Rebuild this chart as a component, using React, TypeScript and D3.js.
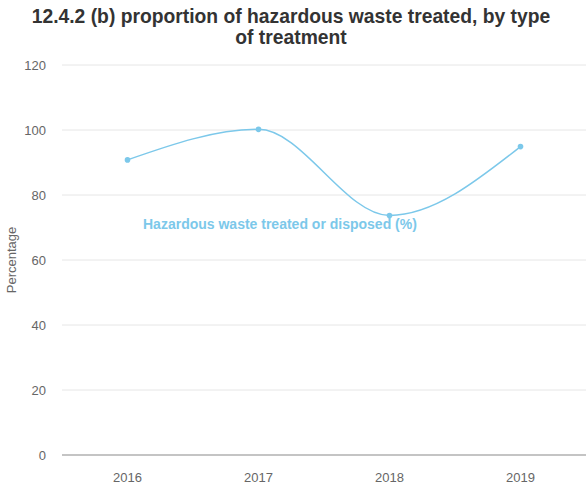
import React from "react";
import * as d3 from "d3";

const years = ["2016", "2017", "2018", "2019"];
const treated = [90.8, 100.2, 73.7, 94.9];
const yTicks = [0, 20, 40, 60, 80, 100, 120];

const W = 587;
const H = 489;
const margin = { top: 65, right: 1, bottom: 34, left: 62 };
const lineColor = "#7cc8ea";
const font = "'Liberation Sans', Arial, sans-serif";

const App: React.FC = () => {
  const x = d3
    .scaleBand<string>()
    .domain(years)
    .range([margin.left, W - margin.right]);
  const y = d3
    .scaleLinear()
    .domain([0, 120])
    .range([H - margin.bottom, margin.top]);

  const pts = years.map((yr, i) => ({ yr, v: treated[i] }));
  const line = d3
    .line<{ yr: string; v: number }>()
    .x((d) => (x(d.yr) as number) + x.bandwidth() / 2)
    .y((d) => y(d.v))
    .curve(d3.curveMonotoneX);

  return (
    <svg
      width={W}
      height={H}
      style={{ position: "absolute", left: 0, top: 0, background: "#fff" }}
      fontFamily={font}
    >
      <text x={291} y={23} textAnchor="middle" fontSize={19.3} fontWeight="bold" fill="#333">
        12.4.2 (b) proportion of hazardous waste treated, by type
      </text>
      <text x={291} y={44} textAnchor="middle" fontSize={19.3} fontWeight="bold" fill="#333">
        of treatment
      </text>

      {yTicks.map((t) => (
        <g key={t}>
          {t !== 0 && (
            <line
              x1={margin.left}
              x2={W - margin.right}
              y1={y(t)}
              y2={y(t)}
              stroke="#e6e6e6"
              strokeWidth={1}
            />
          )}
          <text x={46} y={y(t) + 4.5} textAnchor="end" fontSize={13} fill="#666">
            {t}
          </text>
        </g>
      ))}
      <line
        x1={margin.left}
        x2={W - margin.right}
        y1={y(0)}
        y2={y(0)}
        stroke="#8a8a8a"
        strokeWidth={1.2}
      />

      {years.map((yr) => (
        <text
          key={yr}
          x={(x(yr) as number) + x.bandwidth() / 2}
          y={482}
          textAnchor="middle"
          fontSize={13}
          fill="#666"
        >
          {yr}
        </text>
      ))}

      <text
        transform={`translate(16, ${(y(0) + y(120)) / 2}) rotate(-90)`}
        textAnchor="middle"
        fontSize={13}
        fill="#666"
      >
        Percentage
      </text>

      <path d={line(pts) ?? ""} fill="none" stroke={lineColor} strokeWidth={1.5} />
      {pts.map((d) => (
        <circle
          key={d.yr}
          cx={(x(d.yr) as number) + x.bandwidth() / 2}
          cy={y(d.v)}
          r={2.8}
          fill={lineColor}
        />
      ))}

      <text x={143} y={229} fontSize={14} fontWeight="bold" fill={lineColor}>
        Hazardous waste treated or disposed (%)
      </text>
    </svg>
  );
};

export default App;
